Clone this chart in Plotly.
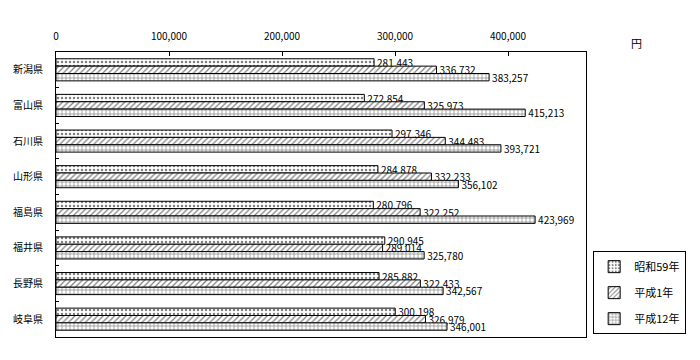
import plotly.graph_objects as go

prefectures = ["新潟県", "富山県", "石川県", "山形県", "福島県", "福井県", "長野県", "岐阜県"]
series_names = ["昭和59年", "平成1年", "平成12年"]
s59 = [281443, 272854, 297346, 284878, 280796, 290945, 285882, 300198]
h1 = [336732, 325973, 344483, 332233, 322252, 289014, 322433, 326979]
h12 = [383257, 415213, 393721, 356102, 423969, 325780, 342567, 346001]
x_ticks = [0, 100000, 200000, 300000, 400000]
x_tick_labels = ["0", "100,000", "200,000", "300,000", "400,000"]

FONT = "Noto Sans CJK JP"
patterns = [".", "/", "+"]
fig = go.Figure()
for i, (name, vals, pat) in enumerate(zip(series_names, [s59, h1, h12], patterns)):
    fig.add_trace(go.Bar(
        y=prefectures, x=vals, name=name, orientation="h", legendgroup=f"g{i}",
        marker=dict(color="white", line=dict(color="black", width=1),
                    pattern=dict(shape=pat, fgcolor="black", bgcolor="white",
                                 size=4, solidity=0.3)),
        text=[f"{v:,}" for v in vals], textposition="outside", constraintext="none",
        textfont=dict(family=FONT, size=10, color="black"),
        cliponaxis=False,
    ))

fig.update_layout(
    width=692, height=352,
    margin=dict(l=48, r=114, t=44, b=23, autoexpand=False),
    paper_bgcolor="white", plot_bgcolor="white",
    barmode="group", bargap=0.38, bargroupgap=0,
    font=dict(family=FONT, size=10, color="black"),
    xaxis=dict(range=[0, 469000], side="top", tickvals=x_ticks, ticktext=x_tick_labels,
               ticks="inside", ticklen=4, tickcolor="black", showgrid=False,
               showline=True, linecolor="black", linewidth=1, mirror=True,
               zeroline=False, ticklabelstandoff=7, tickfont=dict(size=10), automargin=False),
    yaxis=dict(autorange="reversed", ticks="inside", ticklen=3, tickcolor="black",
               tickson="boundaries", showgrid=False, showline=True, linecolor="black",
               linewidth=1, mirror=True, tickfont=dict(size=10), ticklabelstandoff=10,
               automargin=False),
    legend=dict(x=1.189, y=0.01, xanchor="right", yanchor="bottom",
                bordercolor="black", borderwidth=1, bgcolor="white",
                font=dict(size=11), traceorder="grouped", tracegroupgap=7,
                itemwidth=30),
    showlegend=True,
    annotations=[dict(text="円", x=1.096, y=1.032, xref="paper", yref="paper",
                      xanchor="center", yanchor="middle", showarrow=False,
                      font=dict(size=11))],
)
fig.write_html("out.html")
